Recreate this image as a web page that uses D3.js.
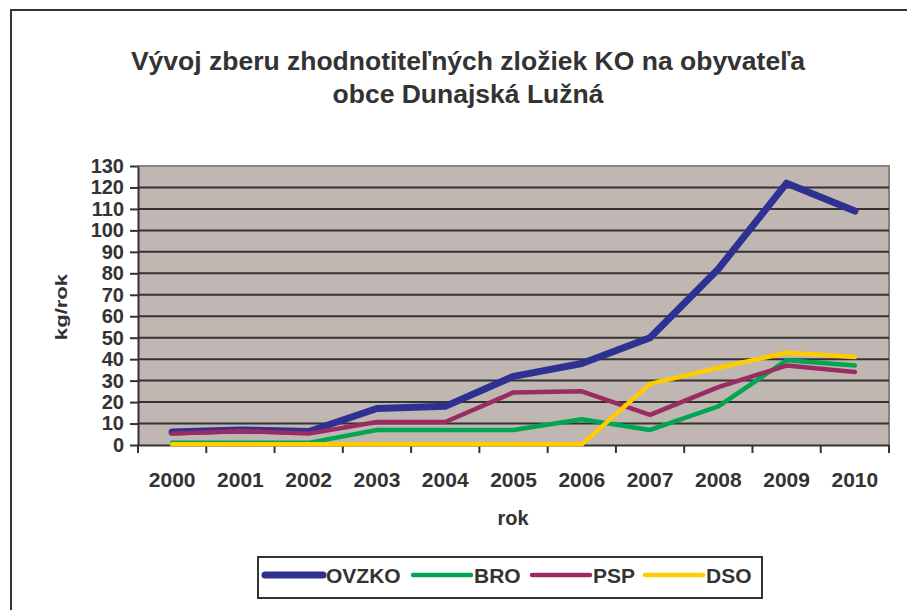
<!DOCTYPE html>
<html><head><meta charset="utf-8">
<script src="https://cdn.jsdelivr.net/npm/d3@7"></script>
<style>body{margin:0;background:#fff;}svg{display:block;}</style>
</head><body>
<svg id="chart" width="907" height="610"></svg>
<script>
const years = ["2000","2001","2002","2003","2004","2005","2006","2007","2008","2009","2010"];
const ovzko = [6, 7, 6.3, 17, 18, 32, 38, 50, 82, 122, 109];
const bro   = [1, 1, 1, 7, 7, 7, 12, 7, 18, 39.5, 37];
const psp   = [5.3, 6.5, 5.3, 10.7, 10.7, 24.5, 25, 14, 27, 37, 34];
const dso   = [0.3, 0.3, 0.3, 0.3, 0.3, 0.3, 0.3, 28.5, 36, 43, 41];
const yTicks = [0,10,20,30,40,50,60,70,80,90,100,110,120,130];
const seriesNames = ["OVZKO","BRO","PSP","DSO"];
const seriesColors = ["#2E3192","#00A651","#9B2C62","#FFCC00"];
const seriesWidths = [7, 4.5, 4.5, 4.5];
const seriesData = [ovzko, bro, psp, dso];

const svg = d3.select("#chart");
const font = "'Liberation Sans', Arial, sans-serif";
const txt = "#333";

// outer frame
svg.append("rect").attr("x", 11).attr("y", 10).attr("width", 920).attr("height", 640)
  .attr("fill", "#fff").attr("stroke", "#333").attr("stroke-width", 2);

const L = 138, T = 166, R = 889, B = 445;
const x = d3.scaleBand().domain(years).range([L, R]).padding(0);
const y = d3.scaleLinear().domain([0, 130]).range([B, T]);

// plot background
svg.append("rect").attr("x", L).attr("y", T).attr("width", R - L).attr("height", B - T)
  .attr("fill", "#C0B6B2");
svg.append("path").attr("d", `M${L},${T}H${R}V${B}`).attr("fill","none")
  .attr("stroke", "#8C807C").attr("stroke-width", 2);

// gridlines
svg.append("g").selectAll("line").data(yTicks.filter(d => d > 0 && d < 130)).join("line")
  .attr("x1", L).attr("x2", R).attr("y1", d => y(d)).attr("y2", d => y(d))
  .attr("stroke", "#333").attr("stroke-width", 2);

// y axis
const yAxis = d3.axisLeft(y).tickValues(yTicks).tickSize(8).tickSizeOuter(0).tickPadding(6);
const gy = svg.append("g").attr("transform", `translate(${L},0)`).call(yAxis);
gy.select(".domain").attr("stroke", "#333").attr("stroke-width", 2);
gy.selectAll(".tick line").attr("stroke", "#333").attr("stroke-width", 2);
gy.selectAll(".tick text").attr("fill", txt).style("font", `bold 20px ${font}`);

// x axis
const xAxis = d3.axisBottom(x).tickSize(0).tickPadding(27);
const gx = svg.append("g").attr("transform", `translate(0,${B})`).call(xAxis);
gx.select(".domain").attr("stroke", "#333").attr("stroke-width", 2);
gx.selectAll(".tick text").attr("fill", txt).style("font", `bold 21px ${font}`);
const bounds = years.map(d => x(d)).concat([R]);
svg.append("g").selectAll("line").data(bounds).join("line")
  .attr("x1", d => d).attr("x2", d => d).attr("y1", B).attr("y2", B + 8)
  .attr("stroke", "#333").attr("stroke-width", 2);

// lines
const line = d3.line().x((d, i) => x(years[i]) + x.bandwidth() / 2).y(d => y(d));
svg.append("g").selectAll("path").data(seriesData).join("path")
  .attr("d", d => line(d)).attr("fill", "none")
  .attr("stroke", (d, i) => seriesColors[i]).attr("stroke-width", (d, i) => seriesWidths[i])
  .attr("stroke-linejoin", "round").attr("stroke-linecap", "round");

// title
svg.append("text").attr("x", 468).attr("y", 70).attr("text-anchor", "middle")
  .attr("fill", txt).style("font", `bold 26.5px ${font}`)
  .text("Vývoj zberu zhodnotiteľných zložiek KO na obyvateľa");
svg.append("text").attr("x", 468).attr("y", 103).attr("text-anchor", "middle")
  .attr("fill", txt).style("font", `bold 26.5px ${font}`)
  .text("obce Dunajská Lužná");

// axis titles
svg.append("text").attr("x", 513).attr("y", 525).attr("text-anchor", "middle")
  .attr("fill", txt).style("font", `bold 20px ${font}`).text("rok");
svg.append("text").attr("transform", "translate(67,307) rotate(-90) scale(1.3,1)").attr("text-anchor", "middle")
  .attr("fill", txt).style("font", `bold 17px ${font}`).text("kg/rok");

// legend
svg.append("rect").attr("x", 258).attr("y", 557).attr("width", 504).attr("height", 41)
  .attr("fill", "#fff").attr("stroke", "#333").attr("stroke-width", 2);
const legX = [265, 413, 532, 645];
const lg = svg.append("g").selectAll("g").data(seriesNames).join("g")
  .attr("transform", (d, i) => `translate(${legX[i]},575)`);
lg.append("line").attr("x1", 0).attr("x2", 58).attr("y1", 0).attr("y2", 0)
  .attr("stroke", (d, i) => seriesColors[i]).attr("stroke-width", (d, i) => seriesWidths[i])
  .attr("stroke-linecap", "round");
lg.append("text").attr("x", 61).attr("y", 8).attr("fill", txt)
  .style("font", `bold 21px ${font}`).text(d => d);
</script>
</body></html>
